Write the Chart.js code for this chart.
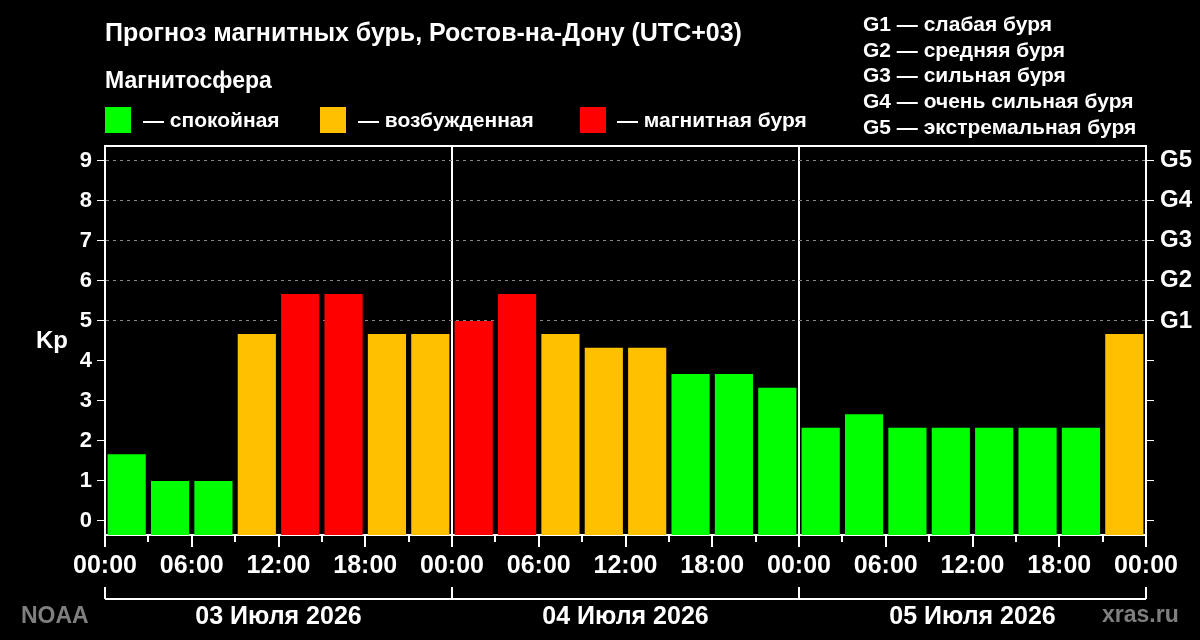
<!DOCTYPE html>
<html>
<head>
<meta charset="utf-8">
<script src="https://cdn.jsdelivr.net/npm/chart.js@4.4.0/dist/chart.umd.min.js"></script>
<style>
  body { margin: 0; background: #000; }
  #wrap { position: relative; width: 1200px; height: 640px; background: #000;
          font-family: "Liberation Sans", Arial, sans-serif; font-weight: bold; color: #fff; }
  #wrap canvas { position: absolute; left: 0; top: 0; }
  .t { position: absolute; white-space: nowrap; line-height: 1; }
  .sq { position: absolute; width: 26px; height: 26px; top: 107px; }
  .gray { color: #7f7f7f; }
</style>
</head>
<body>
<div id="wrap">
  <canvas id="myChart" width="1200" height="640"></canvas>

  <div class="t" style="left:105px; top:20px; font-size:25px">Прогноз магнитных бурь, Ростов-на-Дону (UTC+03)</div>
  <div class="t" style="left:105px; top:69px; font-size:23px">Магнитосфера</div>

  <div class="sq" style="left:105px; background:#00ff00"></div>
  <div class="t" style="left:143px; top:109px; font-size:21px">— спокойная</div>
  <div class="sq" style="left:320px; background:#ffc000"></div>
  <div class="t" style="left:358px; top:109px; font-size:21px">— возбужденная</div>
  <div class="sq" style="left:580px; background:#ff0000"></div>
  <div class="t" style="left:617px; top:109px; font-size:21px">— магнитная буря</div>

  <div id="glegend"></div>

  <div class="t gray" style="left:21px; top:604px; font-size:23px">NOAA</div>
  <div class="t gray" style="left:1102px; top:603px; font-size:23px">xras.ru</div>
</div>

<script>
// Kp forecast, 3-hour intervals, 3 days
const days = ['03 Июля 2026', '04 Июля 2026', '05 Июля 2026']
const hourLabels = ['00:00', '06:00', '12:00', '18:00']
const kp = [1.67, 1, 1, 4.67, 5.67, 5.67, 4.67, 4.67,
            5, 5.67, 4.67, 4.33, 4.33, 3.67, 3.67, 3.33,
            2.33, 2.67, 2.33, 2.33, 2.33, 2.33, 2.33, 4.67]
const gLevels = ['G1', 'G2', 'G3', 'G4', 'G5']
const gNames = ['слабая буря', 'средняя буря', 'сильная буря', 'очень сильная буря', 'экстремальная буря']

const Y_MIN = -0.35
const Y_MAX = 9.37
const HOURS = days.length * 24

// G legend (top right)
let gl = document.getElementById('glegend')
gLevels.forEach((g, i) => {
    gl.innerHTML += `<div class="t" style="left:863px; top:${12.7 + i * 25.8}px; font-size:21px">${g} — ${gNames[i]}</div>`
})

function kpColor(v) {
    if (v >= 5) return '#ff0000'
    if (v >= 4) return '#ffc000'
    return '#00ff00'
}

const extras = {
    id: 'extras',
    afterDraw(chart) {
        const ctx = chart.ctx
        const a = chart.chartArea
        const x = chart.scales.x
        const y = chart.scales.y
        ctx.save()
        ctx.strokeStyle = '#fff'
        ctx.lineWidth = 2
        // top frame line
        ctx.beginPath()
        ctx.moveTo(a.left - 1, a.top)
        ctx.lineTo(a.right + 1, a.top)
        ctx.stroke()
        // short ticks at 03, 09, 15, 21
        for (let h = 3; h < HOURS; h += 6) {
            let px = Math.round(x.getPixelForValue(h))
            ctx.beginPath()
            ctx.moveTo(px, a.bottom)
            ctx.lineTo(px, a.bottom + 7)
            ctx.stroke()
        }
        // day bracket
        const by = 599
        ctx.beginPath()
        ctx.moveTo(x.getPixelForValue(0), by)
        ctx.lineTo(x.getPixelForValue(HOURS), by)
        for (let d = 0; d <= days.length; d++) {
            let px = Math.round(x.getPixelForValue(d * 24))
            ctx.moveTo(px, by)
            ctx.lineTo(px, by - 12)
        }
        ctx.stroke()
        ctx.fillStyle = '#fff'
        ctx.font = 'bold 25px "Liberation Sans", Arial, sans-serif'
        ctx.textAlign = 'center'
        ctx.textBaseline = 'middle'
        days.forEach((d, i) => {
            ctx.fillText(d, x.getPixelForValue(i * 24 + 12), 617)
        })
        // Kp label
        ctx.font = 'bold 24px "Liberation Sans", Arial, sans-serif'
        ctx.fillText('Kp', 52, y.getPixelForValue(4.5))
        ctx.restore()
    }
}

const ctx = document.getElementById('myChart')

new Chart(ctx, {
    type: 'bar',
    data: {
        datasets: [{
            data: kp.map((v, i) => ({ x: i * 3 + 1.5, y: v })),
            backgroundColor: kp.map(kpColor),
            borderWidth: 0,
            base: Y_MIN,
            barPercentage: 0.88,
            categoryPercentage: 1
        }]
    },
    options: {
        responsive: false,
        animation: false,
        layout: { padding: { top: 146, left: 0, right: 0, bottom: 0 } },
        plugins: { legend: { display: false }, tooltip: { enabled: false } },
        scales: {
            x: {
                type: 'linear',
                min: 0,
                max: HOURS,
                offset: false,
                afterFit: s => { s.height = 105 },
                ticks: {
                    stepSize: 3,
                    autoSkip: false,
                    maxRotation: 0,
                    padding: 4,
                    color: '#fff',
                    font: { family: '"Liberation Sans", Arial, sans-serif', size: 25, weight: 'bold' },
                    callback: v => v % 6 === 0 ? hourLabels[(v / 6) % 4] : ''
                },
                grid: {
                    offset: false,
                    lineWidth: 2,
                    tickLength: 12,
                    color: c => (c.tick && c.tick.value % 24 === 0) ? '#fff' : 'rgba(0,0,0,0)',
                    tickColor: c => (c.tick && c.tick.value % 6 === 0) ? '#fff' : 'rgba(0,0,0,0)'
                },
                border: { color: '#fff', width: 2 }
            },
            y: {
                position: 'left',
                min: Y_MIN,
                max: Y_MAX,
                afterFit: s => { s.width = 105 },
                ticks: {
                    stepSize: 1,
                    includeBounds: false,
                    padding: 5,
                    color: '#fff',
                    font: { family: '"Liberation Sans", Arial, sans-serif', size: 22, weight: 'bold' }
                },
                grid: {
                    lineWidth: 1,
                    tickLength: 8,
                    color: c => (c.tick && c.tick.value >= 5) ? '#8a8a8a' : 'rgba(0,0,0,0)',
                    tickColor: '#fff'
                },
                border: { color: '#fff', width: 2, dash: [3, 4] }
            },
            y2: {
                position: 'right',
                min: Y_MIN,
                max: Y_MAX,
                afterFit: s => { s.width = 54 },
                ticks: {
                    stepSize: 1,
                    includeBounds: false,
                    padding: 6,
                    color: '#fff',
                    font: { family: '"Liberation Sans", Arial, sans-serif', size: 24, weight: 'bold' },
                    callback: v => v >= 5 ? gLevels[v - 5] : ''
                },
                grid: {
                    drawOnChartArea: false,
                    tickLength: 8,
                    tickColor: '#fff'
                },
                border: { color: '#fff', width: 2 }
            }
        }
    },
    plugins: [extras]
})
</script>
</body>
</html>
